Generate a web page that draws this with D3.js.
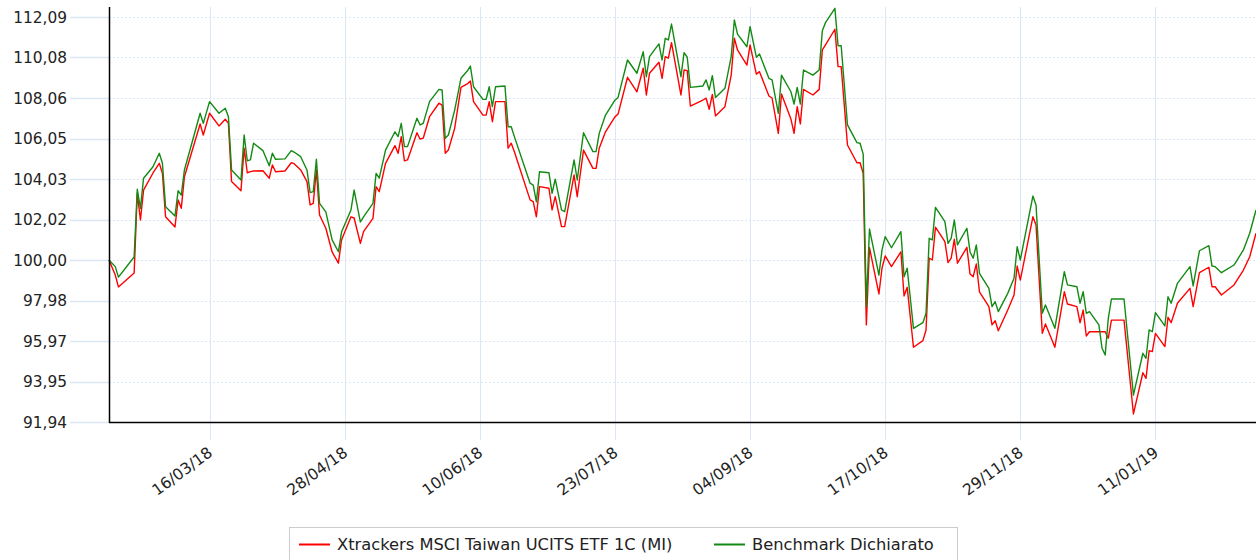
<!DOCTYPE html>
<html><head><meta charset="utf-8">
<script src="https://cdn.jsdelivr.net/npm/d3@7"></script>
<style>
body{margin:0;background:#fff}
svg{display:block}
text{font-family:"DejaVu Sans",Verdana,sans-serif;fill:#222}
</style>
</head><body>
<svg id="c" width="1256" height="560"></svg>
<script>
const dates=[
"2018-02-12","2018-02-14","2018-02-15","2018-02-20","2018-02-21","2018-02-22","2018-02-23","2018-02-26","2018-02-28","2018-03-01",
"2018-03-02","2018-03-05","2018-03-06","2018-03-07","2018-03-08","2018-03-13","2018-03-14","2018-03-16","2018-03-19","2018-03-21",
"2018-03-22","2018-03-23","2018-03-26","2018-03-27","2018-03-28","2018-03-29","2018-03-30","2018-04-02","2018-04-04","2018-04-05",
"2018-04-06","2018-04-09","2018-04-11","2018-04-12","2018-04-14","2018-04-16","2018-04-17","2018-04-18","2018-04-19","2018-04-20",
"2018-04-22","2018-04-24","2018-04-26","2018-04-27","2018-04-30","2018-05-01","2018-05-03","2018-05-04","2018-05-07","2018-05-08",
"2018-05-09","2018-05-11","2018-05-14","2018-05-15","2018-05-16","2018-05-17","2018-05-18","2018-05-21","2018-05-22","2018-05-23",
"2018-05-25","2018-05-28","2018-05-29","2018-05-30","2018-05-31","2018-06-02","2018-06-04","2018-06-06","2018-06-07","2018-06-08",
"2018-06-11","2018-06-12","2018-06-13","2018-06-14","2018-06-15","2018-06-18","2018-06-19","2018-06-20","2018-06-21","2018-06-26",
"2018-06-27","2018-06-28","2018-06-29","2018-07-02","2018-07-03","2018-07-04","2018-07-06","2018-07-07","2018-07-10","2018-07-11",
"2018-07-13","2018-07-16","2018-07-17","2018-07-18","2018-07-20","2018-07-23","2018-07-24","2018-07-27","2018-07-30","2018-08-01",
"2018-08-02","2018-08-03","2018-08-06","2018-08-07","2018-08-08","2018-08-09","2018-08-10","2018-08-13","2018-08-14","2018-08-15",
"2018-08-16","2018-08-20","2018-08-21","2018-08-22","2018-08-23","2018-08-24","2018-08-27","2018-08-29","2018-08-30","2018-08-31",
"2018-09-03","2018-09-04","2018-09-06","2018-09-07","2018-09-10","2018-09-11","2018-09-13","2018-09-14","2018-09-17","2018-09-18",
"2018-09-19","2018-09-20","2018-09-21","2018-09-24","2018-09-26","2018-09-27","2018-09-28","2018-10-01","2018-10-02","2018-10-03",
"2018-10-05","2018-10-08","2018-10-09","2018-10-10","2018-10-11","2018-10-12","2018-10-15","2018-10-16","2018-10-17","2018-10-19",
"2018-10-22","2018-10-23","2018-10-24","2018-10-26","2018-10-29","2018-10-30","2018-10-31","2018-11-01","2018-11-02","2018-11-05",
"2018-11-06","2018-11-07","2018-11-08","2018-11-09","2018-11-12","2018-11-13","2018-11-14","2018-11-15","2018-11-16","2018-11-19",
"2018-11-20","2018-11-21","2018-11-22","2018-11-25","2018-11-27","2018-11-28","2018-11-29","2018-12-03","2018-12-04","2018-12-06",
"2018-12-07","2018-12-10","2018-12-13","2018-12-14","2018-12-17","2018-12-18","2018-12-19","2018-12-20","2018-12-21","2018-12-24",
"2018-12-25","2018-12-26","2018-12-27","2018-12-28","2019-01-01","2019-01-04","2019-01-07","2019-01-08","2019-01-09","2019-01-10",
"2019-01-11","2019-01-14","2019-01-15","2019-01-16","2019-01-18","2019-01-22","2019-01-23","2019-01-25","2019-01-28","2019-01-29",
"2019-01-30","2019-02-01","2019-02-05","2019-02-08","2019-02-10","2019-02-12"];

const fund=[
100.00,99.25,98.66,99.35,103.33,101.99,103.48,104.33,104.81,104.31,
102.15,101.64,102.99,102.57,104.14,106.77,106.22,107.30,106.67,107.00,
106.80,103.90,103.45,105.56,104.34,104.40,104.43,104.44,104.07,104.73,
104.39,104.43,104.84,104.78,104.48,103.90,102.74,102.82,104.48,102.24,
101.58,100.40,99.84,101.00,102.15,102.09,100.83,101.41,102.07,103.65,
103.40,104.81,105.69,105.31,106.14,104.93,104.98,106.33,106.01,106.06,
107.13,107.80,107.71,105.31,105.47,106.55,108.59,108.76,108.91,107.88,
107.21,107.21,107.88,106.88,107.88,107.88,105.56,105.81,105.39,102.99,
102.90,102.15,103.65,103.57,102.49,103.15,101.66,101.66,104.23,103.15,
105.47,104.56,104.56,105.56,106.38,107.12,107.26,109.09,108.37,109.54,
108.21,109.29,109.84,109.04,110.12,110.04,110.81,108.21,109.45,109.42,
107.66,107.96,108.05,107.50,108.24,107.17,107.63,109.20,111.03,110.45,
109.70,110.70,109.25,109.37,108.16,108.06,106.30,108.26,107.02,106.30,
107.63,106.77,108.49,108.21,108.49,110.45,110.70,111.48,109.62,109.62,
105.72,104.84,104.84,104.31,96.77,100.61,98.31,99.60,100.20,99.67,
100.41,98.21,98.64,95.66,95.99,96.52,100.09,100.00,101.63,100.91,
99.87,100.09,101.03,99.84,100.63,99.30,99.17,99.80,98.42,97.68,
96.77,96.98,96.48,97.51,98.26,99.70,99.00,102.15,101.74,96.35,
96.82,95.66,98.42,97.81,97.68,96.88,97.51,96.22,96.43,96.43,
96.43,96.43,96.11,97.01,97.01,92.34,94.39,94.11,95.49,95.44,
96.35,95.69,97.15,96.88,97.85,98.59,97.68,99.37,99.64,98.67,
98.67,98.26,98.76,99.50,100.16,101.33];

const bench=[
100.00,99.67,99.15,100.15,103.52,102.57,104.07,104.64,105.31,104.81,
102.65,102.19,103.45,103.23,104.48,107.30,106.80,107.88,107.30,107.55,
107.13,104.48,103.98,106.22,104.94,104.98,105.81,105.44,104.69,105.31,
105.01,105.03,105.44,105.36,105.14,104.48,103.35,103.40,105.01,102.82,
102.39,101.00,100.41,101.39,102.49,103.48,101.89,102.15,102.82,104.31,
104.07,105.47,106.38,106.14,106.80,105.64,105.64,107.05,106.72,106.80,
107.88,108.49,108.46,106.06,106.22,107.46,109.04,109.40,109.65,108.62,
107.99,107.99,108.62,107.63,108.62,108.66,106.63,106.63,106.14,103.82,
103.73,102.89,104.39,104.34,103.32,104.02,102.49,102.40,104.98,103.98,
106.33,105.39,105.39,106.30,107.21,107.95,108.09,109.95,109.29,110.36,
109.12,110.12,110.75,109.95,111.03,110.95,111.74,109.12,110.31,110.09,
108.59,108.66,108.96,108.46,109.17,108.08,108.54,110.12,111.94,111.24,
110.61,111.61,110.09,110.25,109.04,108.96,107.30,109.20,108.37,107.76,
108.59,107.76,109.45,109.20,109.45,111.41,111.81,112.52,110.66,110.66,
106.72,105.84,105.81,105.27,97.68,101.54,99.25,100.50,101.16,100.61,
101.41,99.17,99.59,96.60,96.88,97.35,101.08,101.00,102.62,101.91,
100.83,101.08,101.99,100.75,101.58,100.40,100.09,100.75,99.34,98.59,
97.68,97.93,97.43,98.34,99.09,100.66,100.00,103.18,102.74,97.35,
97.76,96.60,99.42,98.76,98.67,97.85,98.42,97.35,97.43,96.77,
95.61,95.27,97.10,98.06,98.06,93.28,95.36,95.11,96.52,96.43,
97.38,96.72,98.17,97.85,98.84,99.67,98.71,100.46,100.71,99.70,
99.67,99.37,99.75,100.50,101.33,102.49];

const yTickValues=[91.94,93.955,95.97,97.985,100.00,102.015,104.03,106.045,108.06,110.075,112.09];
const yTickLabels=["91,94","93,95","95,97","97,98","100,00","102,02","104,03","106,05","108,06","110,08","112,09"];
const xTickDates=["2018-03-16","2018-04-28","2018-06-10","2018-07-23","2018-09-04","2018-10-17","2018-11-29","2019-01-11"];
const xTickLabels=["16/03/18","28/04/18","10/06/18","23/07/18","04/09/18","17/10/18","29/11/18","11/01/19"];
const seriesNames=["Xtrackers MSCI Taiwan UCITS ETF 1C (MI)","Benchmark Dichiarato"];
const seriesColors=["#ff0000","#138a13"];
const domainStart="2018-02-12", domainEnd="2019-02-12";

const parse=d3.utcParse("%Y-%m-%d");
const svg=d3.select("#c");
const L=109,R=1256,T=7,B=422;
const x=d3.scaleUtc().domain([parse(domainStart),parse(domainEnd)]).range([L,R]);
const y=d3.scaleLinear().domain([yTickValues[0],yTickValues[yTickValues.length-1]]).range([B,17]);
const grid="#dbe7f4";

// vertical grid
const xt=xTickDates.map(parse);
svg.append("g").selectAll("line").data(xt).join("line")
  .attr("x1",d=>Math.round(x(d))+0.5).attr("x2",d=>Math.round(x(d))+0.5)
  .attr("y1",T).attr("y2",440).attr("stroke",grid).attr("stroke-width",1);

// horizontal grid
const hg=svg.append("g");
hg.selectAll("line.tk").data(yTickValues).join("line").attr("class","tk")
  .attr("x1",70).attr("x2",L).attr("y1",d=>Math.round(y(d))+0.5).attr("y2",d=>Math.round(y(d))+0.5)
  .attr("stroke",grid).attr("stroke-width",1.5);
hg.selectAll("line.gd").data(yTickValues).join("line").attr("class","gd")
  .attr("x1",L).attr("x2",R).attr("y1",d=>Math.round(y(d))+0.5).attr("y2",d=>Math.round(y(d))+0.5)
  .attr("stroke",grid).attr("stroke-width",1).attr("stroke-dasharray","2,2");

// y labels
svg.append("g").selectAll("text").data(yTickValues).join("text")
  .attr("x",67).attr("y",d=>y(d)+5.5).attr("text-anchor","end")
  .style("font-size","15.4px").text((d,i)=>yTickLabels[i]);

// x labels
svg.append("g").selectAll("text").data(xt).join("text")
  .attr("text-anchor","end")
  .attr("transform",d=>`translate(${x(d)+4},455) rotate(-36)`)
  .style("font-size","15.6px").text((d,i)=>xTickLabels[i]);

// series
const pts=dates.map(parse);
const line=d3.line().x((d,i)=>x(pts[i])).y(d=>y(d));
[fund,bench].forEach((s,k)=>{
  svg.append("path").datum(s).attr("d",line).attr("fill","none")
    .attr("stroke",seriesColors[k]).attr("stroke-width",1.4).attr("stroke-linejoin","round");
});

// axes lines
svg.append("line").attr("x1",L+0.5).attr("x2",L+0.5).attr("y1",T).attr("y2",B+1).attr("stroke","#000").attr("stroke-width",1.5);
svg.append("line").attr("x1",L).attr("x2",R).attr("y1",B+0.5).attr("y2",B+0.5).attr("stroke","#000").attr("stroke-width",1.5);

// legend
const lg=svg.append("g");
lg.append("rect").attr("x",289.5).attr("y",527.5).attr("width",668).attr("height",50)
  .attr("fill","#fff").attr("stroke","#cccccc");
const lx=[299,714];
seriesNames.forEach((n,i)=>{
  lg.append("line").attr("x1",lx[i]).attr("x2",lx[i]+31).attr("y1",544.5).attr("y2",544.5)
    .attr("stroke",seriesColors[i]).attr("stroke-width",2);
  lg.append("text").attr("x",lx[i]+38).attr("y",550).style("font-size","16.3px").text(n);
});
</script>
</body></html>
